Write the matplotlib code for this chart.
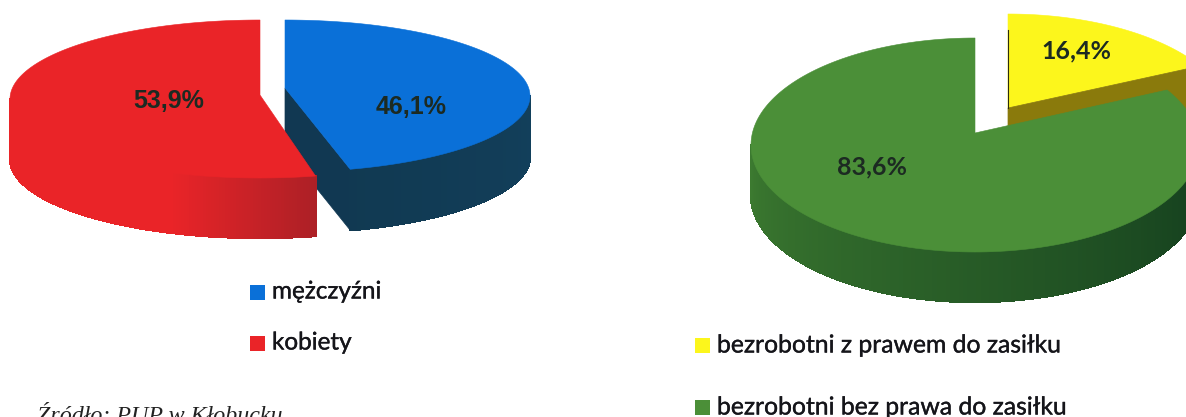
import numpy as np
import matplotlib
matplotlib.use("Agg")
import matplotlib.pyplot as plt
from matplotlib.patches import Polygon, Rectangle
from matplotlib.collections import PolyCollection
from matplotlib.colors import to_rgb
import matplotlib.patheffects as pe

gender_labels = ["mężczyźni", "kobiety"]
gender_values = [46.1, 53.9]
gender_texts = ["46,1%", "53,9%"]
benefit_labels = ["bezrobotni z prawem do zasiłku", "bezrobotni bez prawa do zasiłku"]
benefit_values = [16.4, 83.6]
benefit_texts = ["16,4%", "83,6%"]
source_text = "Źródło: PUP w Kłobucku"

BLUE, RED, GREEN, YELLOW = "#0a70d8", "#ea2428", "#4b8f38", "#fcf61c"

fig = plt.figure(figsize=(11.86, 4.17), dpi=100, facecolor="white")
ax = fig.add_axes([0, 0, 1, 1])
ax.set_xlim(0, 1186)
ax.set_ylim(417, 0)
ax.axis("off")


def mix(a, b, t):
    a, b = np.array(to_rgb(a)), np.array(to_rgb(b))
    return tuple(a + (b - a) * t)


def rim(cx, cy, rx, ry, a0, a1, n=200):
    t = np.radians(np.linspace(a0, a1, n))
    return np.column_stack([cx + rx * np.sin(t), cy - ry * np.cos(t)])


def draw_side(geom, a0, a1, shade):
    cx, cy, rx, ry, depth = geom[:5]
    edges = np.linspace(a0, a1, 161)
    polys, cols = [], []
    for p, q in zip(edges[:-1], edges[1:]):
        pq = rim(cx, cy, rx, ry, p, q, 2)
        polys.append([pq[0], pq[1], pq[1] + [0, depth], pq[0] + [0, depth]])
        cols.append(shade((p + q) / 2))
    ax.add_collection(PolyCollection(polys, facecolors=cols, edgecolors=cols,
                                     linewidths=1.0, antialiaseds=False))


def draw_wall(geom, ang, color):
    cx, cy, rx, ry, depth, ax_, ay = geom
    e = rim(cx, cy, rx, ry, ang, ang, 1)[0]
    ax.add_patch(Polygon([(ax_, ay), e, e + [0, depth], (ax_, ay + depth)], closed=True, fc=color, ec=color, lw=0.5))


def draw_top(geom, a0, a1, color):
    cx, cy, rx, ry, depth, ax_, ay = geom
    pts = np.vstack([[ax_, ay], rim(cx, cy, rx, ry, a0, a1)])
    ax.add_patch(Polygon(pts, closed=True, fc=color, ec=color, lw=0.4))


# left pie: men first clockwise from 12 o'clock, women after
g_b = (285, 96, 245, 76, 61, 285, 88)
g_r = (260, 99, 250, 79, 60, 260, 95)
split = 360 * gender_values[0] / sum(gender_values)
split_b = split - 1.4  # small perspective correction of the drawn edge
split_r = split + 1.2

draw_wall(g_b, split_b, "#113852")
draw_side(g_b, 90, split_b, lambda a: mix("#12405c", "#113850", (a - 90) / 90))
draw_top(g_b, 0, split_b, BLUE)


def red_shade(a):
    return mix("#ac2026", RED, np.clip((a - split_r) / 34, 0, 1))


draw_side(g_r, split_r, 270, red_shade)
draw_top(g_r, split_r, 360, RED)

# right pie: benefit first clockwise from 12 o'clock
g_y = (1008, 121, 224, 107, 50, 1008, 108)
g_g = (975, 145, 224, 107, 50, 975, 133)
split2 = 360 * benefit_values[0] / sum(benefit_values)

draw_top(g_y, 0, split2, YELLOW)
draw_wall(g_y, split2, "#8a7a0c")
ax.plot([g_y[5], g_y[5]], [g_y[6], 30], color="#2a2a10", lw=0.8)


def green_shade(a):
    t = np.clip((270 - a) / 170, 0, 1)
    return mix("#3c7a30", "#143f1e", t)


draw_side(g_g, 90, 270, green_shade)
draw_top(g_g, split2, 360, GREEN)

# value labels
lab = dict(ha="center", va="center", color="#1c2a22", fontweight="bold")
ax.text(411, 107, gender_texts[0], family="Liberation Sans", fontsize=18, **lab)
ax.text(169, 101, gender_texts[1], family="Liberation Sans", fontsize=18, **lab)
ax.text(1076, 51, benefit_texts[0], family="Lato", fontsize=18, **lab)
ax.text(872, 167, benefit_texts[1], family="Lato", fontsize=18, **lab)

# legends
heavier = [pe.withStroke(linewidth=0.25, foreground="#15151a")]
for y, c, s in zip([292, 343], [BLUE, RED], gender_labels):
    ax.add_patch(Rectangle((250, y - 7), 15, 15, fc=c, ec="none"))
    ax.text(272, y, s, family="Lato", fontsize=17.5, va="center", ha="left",
            color="#15151a", path_effects=heavier)
for y, c, s in zip([345, 407], [YELLOW, GREEN], benefit_labels):
    ax.add_patch(Rectangle((695, y - 7), 15, 15, fc=c, ec="none"))
    ax.text(717, y, s, family="Lato", fontsize=17.8, va="center", ha="left",
            color="#15151a", path_effects=heavier)

ax.text(37, 417, source_text, family="Liberation Serif", style="italic", fontsize=17.3,
        va="center", ha="left", color="#222222")

fig.savefig("out.png", dpi=100, facecolor="white")
